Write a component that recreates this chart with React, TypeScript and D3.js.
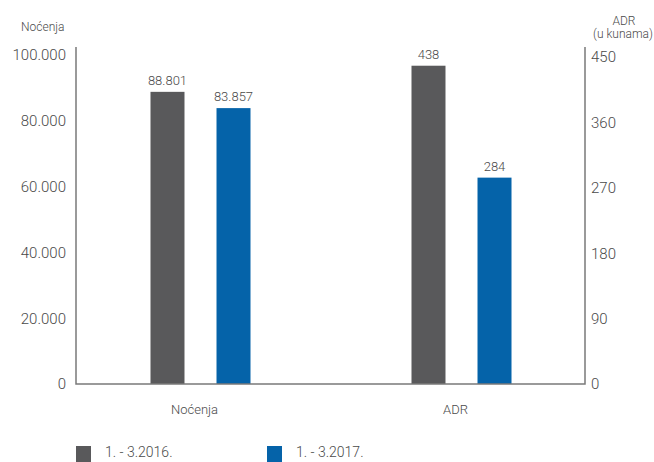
import React from "react";
import * as d3 from "d3";

const categories = ["Noćenja", "ADR"];
const seriesNames = ["1. - 3.2016.", "1. - 3.2017."];
const series2016 = [88801, 438];
const series2017 = [83857, 284];
const leftTicks = [0, 20000, 40000, 60000, 80000, 100000];
const rightTicks = [0, 90, 180, 270, 360, 450];
const colors = ["#59595b", "#0563a9"];

const W = 654;
const H = 462;
const FONT = "Roboto, 'Liberation Sans', sans-serif";

const locale = d3.formatLocale({ decimal: ",", thousands: ".", grouping: [3], currency: ["", " kn"] });
const fmt = locale.format(",d");

export default function App() {
  const left = 76;
  const right = 585;
  const top = 47;
  const bottom = 384;

  const yLeft = d3.scaleLinear().domain([0, 100000]).range([bottom, 55]);
  const yRight = d3.scaleLinear().domain([0, 450]).range([bottom, 57]);
  const x = d3.scaleBand().domain(categories).range([70, 592]).padding(0);
  const inner = d3.scaleBand().domain(seriesNames).range([-50, 50]).paddingInner(0.485).paddingOuter(0);

  const values = [series2016, series2017];
  const scaleFor = (ci: number) => (ci === 0 ? yLeft : yRight);

  const textColor = "#4a4a4a";
  const axisColor = "#7a7a7a";

  return (
    <svg width={W} height={H} style={{ position: "fixed", left: 0, top: 0 }} fontFamily={FONT}>
      <rect x={0} y={0} width={W} height={H} fill="#ffffff" />
      {/* axis titles */}
      <text x={21} y={31} fontSize={12} fill={textColor} fontWeight={300}>Noćenja</text>
      <text x={624} y={25} fontSize={12} fill={textColor} fontWeight={300} textAnchor="middle">ADR</text>
      <text x={623} y={38} fontSize={12} fill={textColor} fontWeight={300} textAnchor="middle">(u kunama)</text>

      {/* bars */}
      {categories.map((c, ci) => {
        const y = scaleFor(ci);
        const cx = (x(c) as number) + x.bandwidth() / 2;
        return seriesNames.map((s, si) => {
          const v = values[si][ci];
          const bx = cx + (inner(s) as number);
          const bw = inner.bandwidth();
          return (
            <g key={c + s}>
              <rect x={bx} y={y(v)} width={bw} height={y(0) - y(v)} fill={colors[si]} />
              <text x={bx + bw / 2} y={y(v) - 7} fontSize={13} fill={textColor} fontWeight={300} textAnchor="middle">
                {fmt(v)}
              </text>
            </g>
          );
        });
      })}

      {/* axes */}
      <path d={`M${left},${top}V${bottom}H${right}V${top}`} fill="none" stroke={axisColor} strokeWidth={1.5} />
      {leftTicks.map((t) => (
        <text key={"l" + t} x={66} y={yLeft(t)} dy="0.36em" fontSize={15} fill={textColor} fontWeight={300} textAnchor="end">
          {fmt(t)}
        </text>
      ))}
      {rightTicks.map((t) => (
        <text key={"r" + t} x={591} y={yRight(t)} dy="0.36em" fontSize={15} fill={textColor} fontWeight={300} textAnchor="start">
          {fmt(t)}
        </text>
      ))}
      {categories.map((c) => (
        <text key={"c" + c} x={(x(c) as number) + x.bandwidth() / 2 - 6} y={414} fontSize={13} fill={textColor} fontWeight={300} textAnchor="middle">
          {c}
        </text>
      ))}

      {/* legend */}
      {seriesNames.map((s, si) => {
        const lx = si === 0 ? 76 : 267;
        return (
          <g key={"lg" + s}>
            <rect x={lx} y={446} width={15} height={16} fill={colors[si]} />
            <text x={lx + 29} y={457} fontSize={14} fill={textColor} fontWeight={300}>{s}</text>
          </g>
        );
      })}
    </svg>
  );
}
